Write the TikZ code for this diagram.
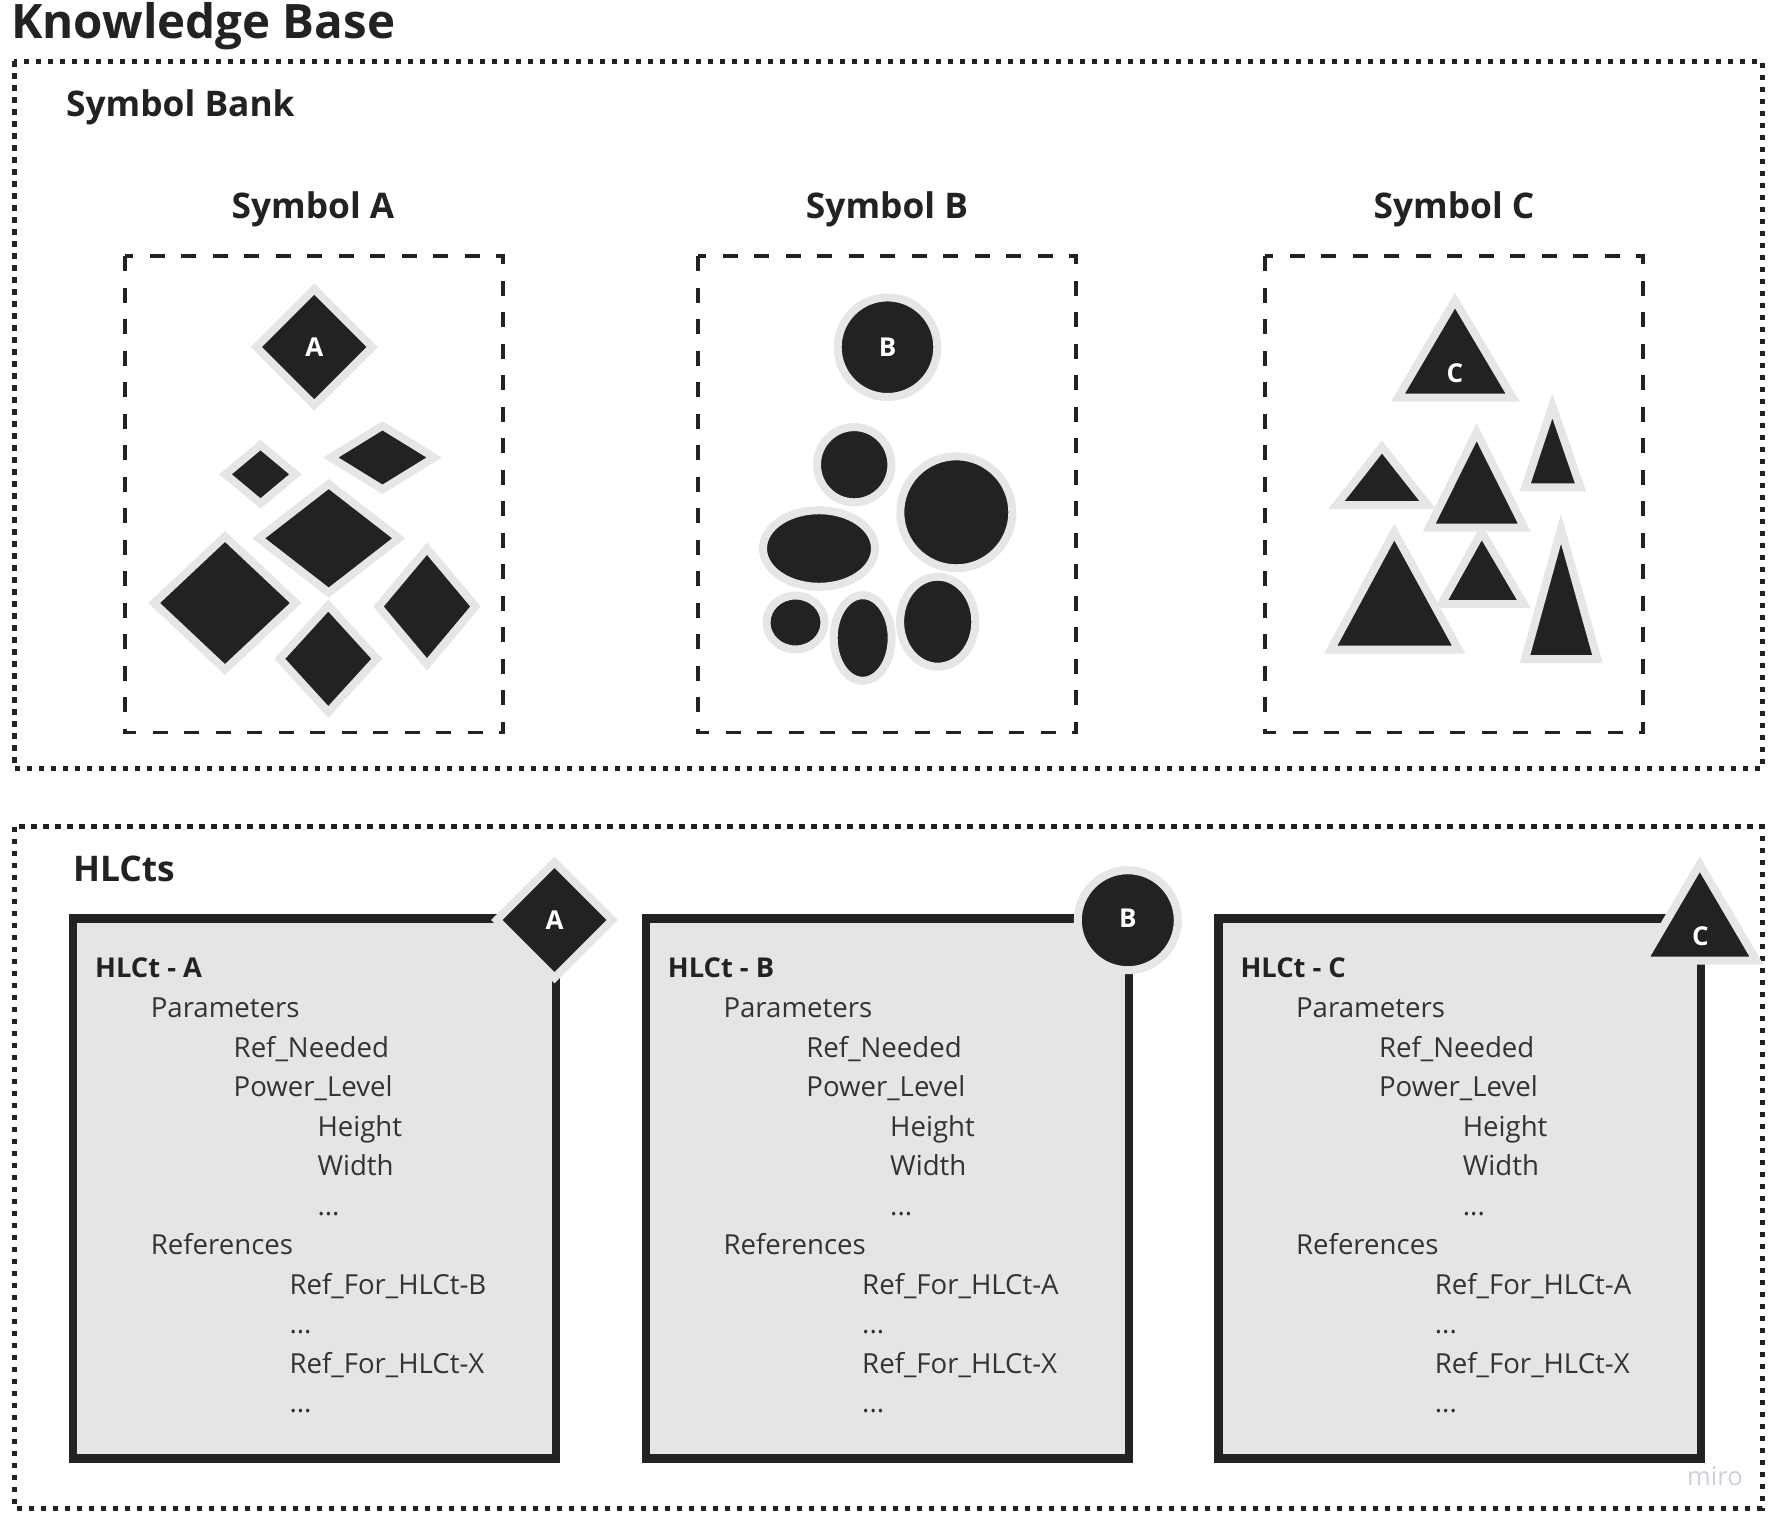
\documentclass[tikz,border=0pt]{standalone}
\usepackage{fontspec}
\setmainfont{Open Sans}
\definecolor{ink}{HTML}{222222}
\definecolor{halo}{HTML}{E6E6E6}
\definecolor{panel}{HTML}{E5E5E5}
\definecolor{bodytxt}{HTML}{333333}
\definecolor{wmark}{HTML}{CFCFDA}
\newcommand\mydiamond[4]{\draw[sym] (#1-#3,#2) -- (#1,#2-#4) -- (#1+#3,#2) -- (#1,#2+#4) -- cycle;}
\begin{document}
\begin{tikzpicture}[x=1pt,y=-1pt,
  dotbox/.style={draw=ink, line width=5, dash pattern=on 5.5 off 6.5},
  dashbox/.style={draw=ink, line width=3.5, dash pattern=on 15 off 16.5},
  sym/.style={fill=ink, draw=halo, line width=8, line join=miter},
  hbox/.style={fill=panel, draw=ink, line width=8.3},
  bigtitle/.style={inner sep=0, anchor=base west, font=\fontsize{47.5}{52}\selectfont\bfseries, text=ink},
  sectitle/.style={inner sep=0, anchor=base west, font=\fontsize{35.3}{40}\selectfont\bfseries, text=ink},
  symtitle/.style={inner sep=0, anchor=base, font=\fontsize{35.3}{40}\selectfont\bfseries, text=ink},
  badge/.style={inner sep=0, font=\fontsize{26}{30}\selectfont\bfseries, text=white},
  htitle/.style={inner sep=0, anchor=base west, font=\fontsize{27.3}{31}\selectfont\bfseries, text=ink},
  hline/.style={inner sep=0, anchor=base west, font=\fontsize{27.6}{31}\selectfont, text=bodytxt},
]
\useasboundingbox[fill=white] (0,0) rectangle (1772,1523);

% ---- titles ----
\node[bigtitle] (kb) at (11,38.3) {Knowledge Base};

% ---- Symbol Bank ----
\draw[dotbox] (14,61) rectangle (1762,768.5);
\node[sectitle] (sbank) at (66,116.7) {Symbol Bank};

\node[symtitle] (stA) at (313,218.3) {Symbol A};
\node[symtitle] (stB) at (887,218.3) {Symbol B};
\node[symtitle] (stC) at (1454,218.3) {Symbol C};

\draw[dashbox] (125,256) rectangle (503,732.5);
\draw[dashbox] (698,256) rectangle (1076,732.5);
\draw[dashbox] (1265,256) rectangle (1643,732.5);

% diamonds
\mydiamond{314.3}{347}{58}{58}
\node[badge] (symA) at (314.3,347) {A};
\mydiamond{260.5}{474.3}{35}{29.2}
\mydiamond{382.5}{457.5}{51.7}{31.8}
\mydiamond{328.7}{538.3}{70}{54.3}
\mydiamond{225}{603}{70.8}{66.6}
\mydiamond{328.3}{658.8}{48.5}{53.2}
\mydiamond{427}{606.5}{48.5}{57.9}

% circles / ellipses
\draw[sym] (887.5,347.2) circle (49.8);
\node[badge] (symB) at (887.5,347.2) {B};
\draw[sym] (854.2,464.7) ellipse [x radius=37.2, y radius=37.6];
\draw[sym] (956.3,512.3) circle (56);
\draw[sym] (819,548.5) ellipse [x radius=56, y radius=38.3];
\draw[sym] (795.5,622.5) ellipse [x radius=29, y radius=27];
\draw[sym] (862.7,638) ellipse [x radius=29, y radius=42.8];
\draw[sym] (937.7,621.7) ellipse [x radius=37.6, y radius=45];

% triangles
\draw[sym] (1398,397.5) -- (1455,300.5) -- (1512.5,397.5) -- cycle;
\node[badge] (symC) at (1455,373.3) {C};
\draw[sym] (1336.3,505.2) -- (1382,447) -- (1427.8,505.2) -- cycle;
\draw[sym] (1429.2,527.5) -- (1476.7,432.2) -- (1524.2,527.5) -- cycle;
\draw[sym] (1525.3,487.3) -- (1552.3,405.8) -- (1580.5,487.3) -- cycle;
\draw[sym] (1330.7,649.7) -- (1394.3,532) -- (1458.7,649.7) -- cycle;
\draw[sym] (1441.3,604.2) -- (1481.7,532.2) -- (1524,604.2) -- cycle;
\draw[sym] (1525,659.2) -- (1561,528.8) -- (1597.5,659.2) -- cycle;

% ---- HLCts ----
\draw[dotbox] (14,826.7) rectangle (1762,1508);
\node[sectitle] (hlcts) at (73,881.7) {HLCts};

\draw[hbox] (73.2,918.4) rectangle (555.8,1458.6);
\draw[hbox] (645.8,918.4) rectangle (1129.2,1458.6);
\draw[hbox] (1218.4,918.4) rectangle (1700.9,1458.6);

\mydiamond{554.5}{920}{57.8}{57.8}
\node[badge] (hA) at (554.5,920) {A};
\draw[sym] (1127.8,920.2) circle (50);
\node[badge] (hB) at (1127.8,918.5) {B};
\draw[sym] (1643.3,960.5) -- (1699.8,864.2) -- (1756.4,960.5) -- cycle;
\node[badge] (hC) at (1700.5,936.7) {C};

\foreach \L/\n/\r in {69/A/B, 641.7/B/A, 1214.3/C/A}{
  \node[htitle] (t\n) at (\L+26,977.5) {HLCt - \n};
  \node[hline] (p\n)  at (\L+81.6,1017.5) {Parameters};
  \node[hline] (rn\n) at (\L+164.5,1057) {Ref\_Needed};
  \node[hline] (pl\n) at (\L+164.5,1096.5) {Power\_Level};
  \node[hline] (he\n) at (\L+248.3,1136) {Height};
  \node[hline] (wi\n) at (\L+248.3,1175.5) {Width};
  \node[hline] (da\n) at (\L+248.3,1215) {...};
  \node[hline] (re\n) at (\L+81.6,1254.5) {References};
  \node[hline] (r1\n) at (\L+220.3,1294) {Ref\_For\_HLCt-\r};
  \node[hline] (db\n) at (\L+220.3,1333.5) {...};
  \node[hline] (rx\n) at (\L+220.3,1373) {Ref\_For\_HLCt-X};
  \node[hline] (dc\n) at (\L+220.3,1412.5) {...};
}

\node[inner sep=0, anchor=base west, font=\fontsize{25.5}{28}\selectfont, text=wmark] (miro) at (1687,1485) {miro};
\end{tikzpicture}
\end{document}
